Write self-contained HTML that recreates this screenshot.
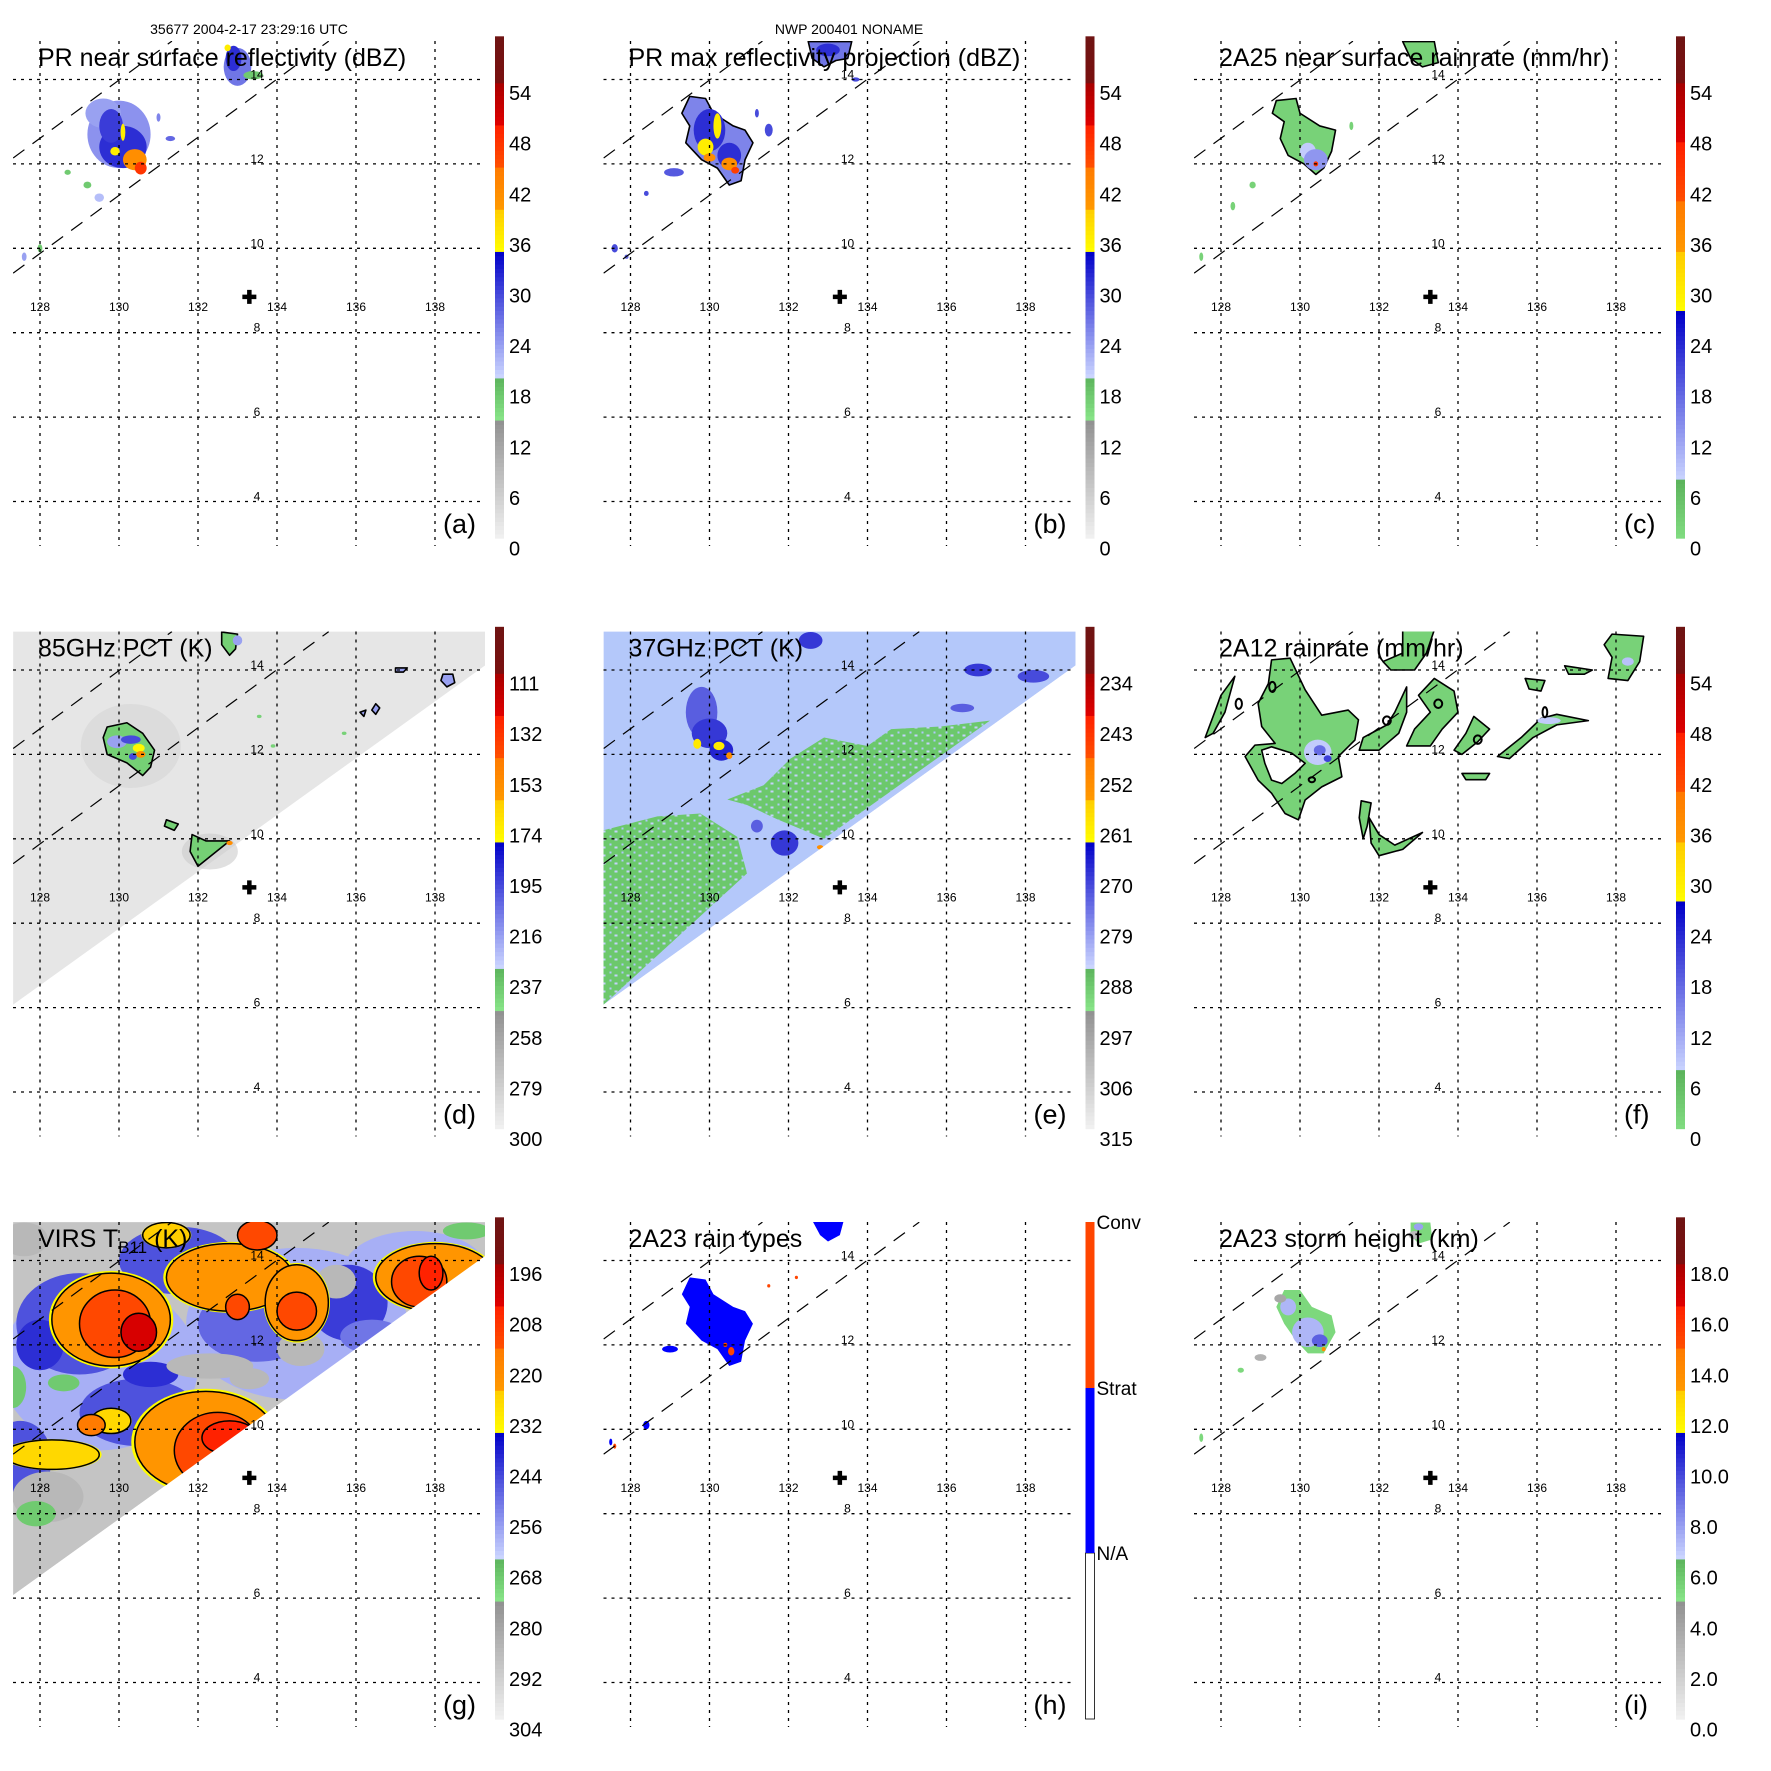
<!DOCTYPE html>
<html><head><meta charset="utf-8"><style>
html,body{margin:0;padding:0;background:#fff}
svg{display:block;font-family:"Liberation Sans",sans-serif}
</style></head><body>
<svg id="fig" xmlns="http://www.w3.org/2000/svg" width="1771" height="1771" viewBox="0 0 1771 1771">
<rect x="0" y="0" width="1771" height="1771" fill="#fff"/>
<defs>
<pattern id="speckE" width="12" height="8" patternUnits="userSpaceOnUse">
<rect width="12" height="8" fill="#6cc86c"/><rect x="0" y="0" width="3" height="2" fill="#c4d2fa"/><rect x="7" y="5" width="2" height="2" fill="#b0c8fa"/>
</pattern>
</defs>
<text x="249" y="34" font-size="14" text-anchor="middle">35677 2004-2-17 23:29:16 UTC</text>
<text x="849" y="34" font-size="14" text-anchor="middle">NWP 200401 NONAME</text>
</svg>
<script>
// ---------- data (lon/lat in degrees, values in panel units) ----------
const lonTicks=[128,130,132,134,136,138];
const latTicks=[14,12,10,8,6,4];
const prSwathUpper=[[127.32,12.14],[131.34,14.91]];
const prSwathLower=[[127.32,9.41],[135.31,14.91]];
const tmiSwath=[[127.32,14.91],[139.27,14.91],[139.27,14.11],[127.32,6.07]];
const stormCenter=[133.3,8.85];
const labelsA=[0,6,12,18,24,30,36,42,48,54];
const labelsD=[300,279,258,237,216,195,174,153,132,111];
const labelsE=[315,306,297,288,279,270,261,252,243,234];
const labelsG=[304,292,280,268,256,244,232,220,208,196];
const labelsI=["0.0","2.0","4.0","6.0","8.0","10.0","12.0","14.0","16.0","18.0"];
// blobs: [lon, lat, rLon, rLat, value]
const blobsA=[[130.0,12.7,0.8,0.8,25],[129.6,13.2,0.45,0.35,24],[130.1,12.4,0.6,0.5,32],[129.8,12.9,0.3,0.4,31],[130.4,12.1,0.3,0.25,42],[130.55,11.9,0.15,0.15,48],[129.9,12.3,0.12,0.1,37],[130.1,12.75,0.06,0.2,37],[133.0,14.3,0.35,0.45,27],[132.9,14.5,0.2,0.3,32],[132.75,14.75,0.08,0.08,37],[133.4,14.1,0.25,0.1,18],[129.2,11.5,0.1,0.08,18],[129.5,11.2,0.12,0.1,22],[128.7,11.8,0.08,0.06,18],[127.6,9.8,0.06,0.1,24],[128.0,10.0,0.06,0.1,18],[131.3,12.6,0.12,0.06,28],[131.0,13.1,0.05,0.1,26]];
const polysB=[[26,[[129.5,13.6],[129.9,13.55],[130.1,13.2],[130.6,12.9],[130.9,12.8],[131.1,12.5],[130.9,12.1],[130.8,11.6],[130.5,11.5],[130.2,11.9],[129.8,12.1],[129.4,12.5],[129.5,12.9],[129.3,13.2]]],[27,[[132.5,14.9],[133.6,14.9],[133.5,14.5],[133.2,14.45],[132.9,14.3],[132.6,14.5]]]];
const blobsB=[[130.0,12.8,0.4,0.5,32],[130.5,12.2,0.3,0.3,32],[129.9,12.4,0.2,0.2,37],[130.2,12.9,0.1,0.3,37],[130.5,12.0,0.2,0.15,42],[130.0,12.15,0.15,0.1,42],[130.65,11.85,0.1,0.08,47],[133.0,14.7,0.3,0.15,32],[129.1,11.8,0.25,0.1,29],[128.4,11.3,0.06,0.06,30],[127.6,10.0,0.08,0.1,30],[127.9,9.8,0.05,0.05,28],[131.5,12.8,0.1,0.15,30],[131.2,13.2,0.05,0.1,30],[133.7,14.0,0.1,0.05,30]];
const polysC=[[3,[[129.4,13.5],[129.9,13.55],[130.0,13.2],[130.5,12.9],[130.9,12.8],[130.8,12.3],[130.6,11.9],[130.4,11.75],[130.1,12.0],[129.7,12.2],[129.5,12.6],[129.6,13.0],[129.3,13.2]]],[3,[[132.6,14.9],[133.4,14.9],[133.5,14.4],[133.1,14.3],[132.8,14.5]]]];
const blobsC=[[130.2,12.3,0.2,0.2,9],[130.4,12.1,0.3,0.25,14],[130.4,12.0,0.06,0.06,45],[128.8,11.5,0.08,0.08,3],[128.3,11.0,0.06,0.1,3],[127.5,9.8,0.05,0.1,3],[131.3,12.9,0.05,0.1,3]];
const polysD=[[239,[[129.7,12.65],[130.2,12.75],[130.6,12.5],[130.9,12.1],[130.8,11.7],[130.6,11.5],[130.2,11.8],[129.7,12.0],[129.6,12.4]]],[239,[[131.85,10.1],[132.2,9.95],[132.8,9.95],[132.0,9.35],[131.8,9.7]]],[239,[[131.2,10.45],[131.5,10.35],[131.4,10.2],[131.15,10.3]]],[239,[[132.6,14.9],[133.0,14.85],[132.95,14.5],[132.8,14.35],[132.6,14.6]]],[216,[[138.2,13.9],[138.45,13.9],[138.5,13.7],[138.3,13.6],[138.15,13.75]]],[216,[[137.0,14.05],[137.3,14.05],[137.2,13.95],[137.0,13.95]]],[216,[[136.5,13.2],[136.6,13.1],[136.5,12.95],[136.4,13.05]]],[216,[[136.1,13.0],[136.25,13.05],[136.2,12.9]]]];
const blobsD2=[[129.95,12.3,0.25,0.15,216],[130.3,12.35,0.25,0.1,195],[130.5,12.15,0.15,0.1,174],[130.55,12.0,0.12,0.08,153],[130.35,11.95,0.1,0.08,195],[132.8,9.9,0.08,0.05,153],[133.0,14.7,0.12,0.12,216],[135.7,12.5,0.06,0.04,240],[133.55,12.9,0.06,0.04,240],[133.9,12.2,0.06,0.04,240]];
const polysE=[[290,[[127.1,10.15],[128.68,10.53],[129.77,10.6],[130.7,10.05],[130.95,9.18],[127.32,6.07]]],[290,[[130.45,10.93],[131.37,11.27],[132.05,11.9],[132.9,12.4],[134.0,12.2],[134.6,12.6],[135.85,12.66],[137.1,12.8],[132.9,10.0],[131.7,10.47],[130.95,10.8]]]];
const blobsE=[[129.8,13.0,0.4,0.6,272],[130.0,12.5,0.45,0.35,268],[130.3,12.1,0.3,0.25,266],[129.69,12.25,0.1,0.12,259],[130.24,12.2,0.14,0.1,259],[130.5,11.97,0.08,0.08,252],[132.56,14.7,0.3,0.2,268],[136.8,14.0,0.35,0.15,268],[138.2,13.85,0.4,0.15,270],[136.4,13.1,0.3,0.1,272],[131.9,9.9,0.35,0.3,268],[131.2,10.3,0.15,0.15,272],[132.8,9.8,0.08,0.05,252]];
const polysF=[[3,[[129.28,14.24],[129.75,14.28],[130.13,13.53],[130.55,12.93],[131.22,13.05],[131.48,12.82],[131.39,12.34],[130.97,11.95],[131.06,11.47],[130.55,11.23],[130.13,10.92],[129.96,10.45],[129.62,10.6],[129.28,11.08],[128.94,11.39],[128.61,11.95],[128.86,12.22],[129.37,12.26],[129.03,12.66],[128.94,13.21],[129.2,13.68]]],[0,[[129.03,12.10],[129.28,12.18],[129.79,12.03],[130.13,11.79],[129.87,11.55],[129.54,11.31],[129.28,11.39],[129.11,11.79]]],[3,[[128.35,13.85],[128.0,13.4],[127.8,12.9],[127.6,12.4],[127.8,12.5],[128.1,13.0]]],[3,[[132.7,13.6],[132.4,13.0],[132.2,12.7],[131.6,12.4],[131.5,12.1],[132.0,12.1],[132.5,12.5],[132.7,13.0]]],[3,[[132.6,14.95],[133.4,14.95],[133.2,14.4],[132.9,14.0],[132.3,14.0],[132.1,14.2],[132.6,14.4]]],[3,[[133.4,13.8],[133.9,13.5],[134.0,13.0],[133.6,12.6],[133.3,12.2],[132.7,12.2],[132.9,12.6],[133.3,13.0],[133.0,13.4]]],[3,[[134.4,12.9],[134.8,12.6],[134.5,12.3],[134.1,12.0],[133.9,12.1],[134.2,12.5]]],[3,[[135.0,11.95],[135.6,12.4],[136.1,12.85],[136.5,12.95],[137.3,12.8],[136.5,12.7],[135.9,12.4],[135.3,11.9]]],[3,[[135.7,13.8],[136.2,13.75],[136.1,13.5],[135.8,13.55]]],[3,[[136.7,14.1],[137.4,14.0],[137.2,13.9],[136.8,13.9]]],[3,[[137.9,14.85],[138.7,14.8],[138.6,14.2],[138.3,13.75],[137.8,13.8],[137.9,14.3],[137.7,14.6]]],[3,[[134.1,11.55],[134.8,11.55],[134.7,11.4],[134.2,11.4]]],[3,[[131.55,10.9],[131.8,10.85],[131.7,10.3],[131.6,10.0],[131.5,10.5]]],[3,[[131.75,10.5],[132.0,10.1],[132.4,9.85],[133.1,10.15],[132.6,9.75],[132.0,9.6],[131.8,9.9]]]];
const blobsF=[[130.45,12.05,0.35,0.3,9],[130.5,12.1,0.15,0.12,18],[130.7,11.9,0.1,0.08,22],[138.3,14.2,0.15,0.1,10],[136.3,12.8,0.3,0.08,9]];
const ringsF=[[129.3,13.6,0.08,0.12],[128.45,13.2,0.08,0.12],[132.2,12.8,0.1,0.1],[133.5,13.2,0.1,0.1],[134.5,12.35,0.1,0.1],[136.2,13.0,0.06,0.12],[130.3,11.4,0.08,0.06]];
const blobsG=[[129.5,11.5,2.5,2.0,258],[134.5,12.5,2.8,1.8,258],[137.5,13.8,1.8,0.9,258],[129.0,12.5,1.6,1.2,245],[130.5,10.4,1.5,0.8,245],[133.5,12.5,1.5,0.9,248],[135.8,13.0,1.0,0.9,242],[131.5,14.0,1.5,0.8,245],[127.5,9.3,0.8,0.9,245],[138.6,13.7,0.8,0.5,245],[128.0,12.0,0.6,0.6,240],[130.8,11.3,0.7,0.3,240],[136.4,12.2,0.8,0.4,250],[132.3,11.5,1.1,0.3,285],[135.5,13.5,0.5,0.4,285],[134.6,11.9,0.6,0.4,285],[127.6,14.5,0.6,0.4,285],[128.2,8.4,0.9,0.6,285],[133.3,11.2,0.5,0.25,285],[127.3,11.0,0.35,0.5,268],[128.6,11.1,0.4,0.2,268],[127.9,8.0,0.5,0.3,268],[138.8,14.7,0.6,0.2,268]];
const warmG=[[129.8,12.6,1.5,1.1,222],[132.2,9.7,1.8,1.2,222],[128.3,9.4,1.2,0.35,226],[132.8,13.6,1.6,0.8,222],[134.5,13.0,0.8,0.9,222],[138.0,13.6,1.5,0.8,222],[131.2,14.6,0.6,0.3,224],[129.8,10.2,0.5,0.3,226]];
const coldG=[[129.9,12.5,0.9,0.8,212],[132.5,9.5,1.1,0.9,212],[133.5,14.6,0.5,0.35,212],[134.5,12.8,0.5,0.45,212],[133.0,12.9,0.3,0.3,212],[137.6,13.5,0.7,0.6,212],[129.3,10.1,0.35,0.25,214],[130.5,12.3,0.45,0.45,202],[132.8,9.8,0.7,0.4,204],[137.9,13.7,0.3,0.4,204]];
const polysH=[[1,[[129.5,13.6],[129.9,13.55],[130.1,13.2],[130.6,12.9],[130.9,12.8],[131.1,12.5],[130.9,12.1],[130.8,11.6],[130.5,11.5],[130.2,11.9],[129.8,12.1],[129.4,12.5],[129.5,12.9],[129.3,13.2]]],[1,[[132.6,14.95],[133.4,14.95],[133.3,14.6],[133.0,14.45],[132.8,14.6]]]];
const blobsH=[[130.55,11.85,0.08,0.1,2],[130.4,12.0,0.05,0.05,2],[131.5,13.4,0.04,0.04,2],[132.2,13.6,0.04,0.04,2],[127.6,9.6,0.04,0.06,2],[128.4,10.1,0.08,0.1,1],[129.0,11.9,0.2,0.08,1],[127.5,9.7,0.04,0.08,1]];
const polysI=[[5.5,[[129.6,13.3],[130.0,13.3],[130.3,12.9],[130.8,12.7],[130.9,12.3],[130.6,11.8],[130.2,11.8],[129.9,12.1],[129.6,12.5],[129.4,12.9]]],[5.5,[[132.8,14.9],[133.3,14.9],[133.35,14.5],[133.0,14.4],[132.8,14.6]]]];
const blobsI=[[130.2,12.3,0.4,0.35,7.5],[129.7,12.9,0.2,0.2,7.5],[130.5,12.1,0.2,0.15,9.5],[129.5,13.1,0.15,0.1,4],[130.6,11.9,0.05,0.05,14],[132.9,14.6,0.15,0.1,3],[133.0,14.8,0.12,0.08,8],[129.0,11.7,0.15,0.08,3.5],[128.5,11.4,0.08,0.06,5.5],[127.5,9.8,0.05,0.1,5.5]];

// ---------- helpers ----------
const NS="http://www.w3.org/2000/svg";
const svg=document.getElementById('fig');
function X(lon){return 40+(lon-128)*39.5;}
function Y(lat){return 79.5+(14-lat)*42.2;}
function el(tag,attrs,parent){const e=document.createElementNS(NS,tag);for(const k in attrs)e.setAttribute(k,attrs[k]);parent.appendChild(e);return e;}
function mix(a,b,t){const pa=[parseInt(a.slice(1,3),16),parseInt(a.slice(3,5),16),parseInt(a.slice(5,7),16)];const pb=[parseInt(b.slice(1,3),16),parseInt(b.slice(3,5),16),parseInt(b.slice(5,7),16)];return 'rgb('+pa.map((v,i)=>Math.round(v+(pb[i]-v)*t)).join(',')+')';}
function bands(v,stops){for(const s of stops){if(v<=s[1])return mix(s[2],s[3],Math.max(0,Math.min(1,(v-s[0])/(s[1]-s[0]))));}const l=stops[stops.length-1];return l[3];}
const stopsA=[[0,15.3,'#fafafa','#909090'],[15.3,20.3,'#88e488','#5cb45c'],[20.3,35.2,'#ccd6ff','#0000c8'],[35.2,40.2,'#ffff00','#ffcc00'],[40.2,45.2,'#ff9a00','#ff7a00'],[45.2,50.2,'#ff5000','#ff2000'],[50.2,55.2,'#e00000','#a80000'],[55.2,70,'#7a1010','#5a1a18']];
const stopsC=[[0,8,'#88e488','#5cb45c'],[8,28,'#ccd6ff','#0000c8'],[28,35,'#ffff00','#ffcc00'],[35,41,'#ff9a00','#ff7a00'],[41,48,'#ff5000','#ff2000'],[48,55,'#e00000','#a80000'],[55,70,'#7a1010','#5a1a18']];
function colA(v){return bands(v,stopsA);}
function colC(v){return v<=0?'#ffffff':bands(v,stopsC);}
const fD=T=>colA((300-T)/3.5);
const fE=T=>colA((315-T)/1.5);
const fG=T=>colA((304-T)/2);
const fI=h=>colA(h*3);
const fH=c=>c===2?'#ff4500':(c===1?'#0000ff':'#ffffff');
function cbY(v){return 548.5-v*8.433;}

function ellipses(g,list,fn,stroke){for(const b of list){const e=el('ellipse',{cx:X(b[0]),cy:Y(b[1]),rx:b[2]*39.5,ry:b[3]*42.2,fill:fn(b[4])},g);if(stroke){e.setAttribute('stroke','#000');e.setAttribute('stroke-width','1.5');}

}}
function polys(g,list,fn,stroke){for(const p of list){const e=el('polygon',{points:p[1].map(q=>X(q[0])+','+Y(q[1])).join(' '),fill:fn(p[0])},g);if(stroke){e.setAttribute('stroke','#000');e.setAttribute('stroke-width','1.6');e.setAttribute('stroke-linejoin','round');}

}}
function swathFill(g,fill){const e=el('polygon',{points:tmiSwath.map(q=>X(q[0])+','+Y(q[1])).join(' '),fill:fill},g);

return e;}

const panels=[
 {key:'a',title:'PR near surface reflectivity (dBZ)',labels:labelsA,cb:v=>colA(v)},
 {key:'b',title:'PR max reflectivity projection (dBZ)',labels:labelsA,cb:v=>colA(v)},
 {key:'c',title:'2A25 near surface rainrate (mm/hr)',labels:labelsA,cb:v=>colC(v)},
 {key:'d',title:'85GHz PCT (K)',labels:labelsD,cb:v=>colA(v)},
 {key:'e',title:'37GHz PCT (K)',labels:labelsE,cb:v=>colA(v)},
 {key:'f',title:'2A12 rainrate (mm/hr)',labels:labelsA,cb:v=>colC(v)},
 {key:'g',title:'VIRS',labels:labelsG,cb:v=>colA(v)},
 {key:'h',title:'2A23 rain types',labels:null,cb:null},
 {key:'i',title:'2A23 storm height (km)',labels:labelsI,cb:v=>colA(v)}
];

panels.forEach((p,i)=>{
 const col=i%3,row=Math.floor(i/3);
 const g=el('g',{transform:'translate('+(col*590.5)+','+(row*590.5)+')'},svg);
 
 
 const cp=el('clipPath',{id:'clip'+p.key},g);
 el('rect',{x:13,y:41,width:472,height:505},cp);
 const m=el('g',{'clip-path':'url(#clip'+p.key+')'},g);
 
 
 if(p.key==='a'){ellipses(m,blobsA,colA,false);}
 if(p.key==='b'){polys(m,polysB,colA,true);ellipses(m,blobsB,colA,false);}
 if(p.key==='c'){polys(m,polysC,colC,true);ellipses(m,blobsC,colC,false);}
 if(p.key==='d'){swathFill(m,'#e6e6e6');el('ellipse',{cx:X(130.3),cy:Y(12.2),rx:50,ry:42,fill:'#d6d6d6',opacity:0.6},m);el('ellipse',{cx:X(132.3),cy:Y(9.7),rx:28,ry:18,fill:'#cccccc',opacity:0.6},m);
  polys(m,polysD,fD,true);ellipses(m,blobsD2,fD,false);}
 if(p.key==='e'){swathFill(m,'#b4c8fa');polys(m,polysE,()=> 'url(#speckE)',false);ellipses(m,blobsE,fE,false);
  el('polygon',{points:[[139.27,14.11],[139.27,4],[127.32,4],[127.32,6.07]].map(q=>X(q[0])+','+Y(q[1])).join(' '),fill:'#fff'},m);}
 if(p.key==='f'){polys(m,polysF,colC,true);ellipses(m,blobsF,colC,false);
  for(const r of ringsF){const e=el('ellipse',{cx:X(r[0]),cy:Y(r[1]),rx:r[2]*39.5,ry:r[3]*42.2,fill:'none',stroke:'#000','stroke-width':2},m);
  
  }}
 if(p.key==='g'){swathFill(m,'#c4c4c4');ellipses(m,blobsG,fG,false);
  ellipses(m,warmG.map(b=>[b[0],b[1],b[2]*1.05,b[3]*1.05,233]),fG,false);
  ellipses(m,warmG,fG,true);ellipses(m,coldG,fG,true);
  el('polygon',{points:[[139.27,14.11],[139.27,4],[127.32,4],[127.32,6.07]].map(q=>X(q[0])+','+Y(q[1])).join(' '),fill:'#fff'},m);}
 if(p.key==='h'){polys(m,polysH,fH,false);ellipses(m,blobsH,fH,false);}
 if(p.key==='i'){polys(m,polysI,fI,false);ellipses(m,blobsI,fI,false);}
 // grid
 for(const lat of latTicks){const l=el('line',{x1:13,x2:485,y1:Y(lat),y2:Y(lat),stroke:'#000','stroke-width':1.3,'stroke-dasharray':'3,5'},g);
  
  
  const t=el('text',{x:257,y:Y(lat)-1,'font-size':12,'text-anchor':'middle'},g);t.textContent=lat;
  
  }
 for(const lon of lonTicks){const l=el('line',{x1:X(lon),x2:X(lon),y1:41,y2:546,stroke:'#000','stroke-width':1.3,'stroke-dasharray':'3,5'},g);
  
  
  const t=el('text',{x:X(lon),y:311,'font-size':12,'text-anchor':'middle'},g);t.textContent=lon;
  
  }
 // PR swath edges
 const sw=el('g',{'clip-path':'url(#clip'+p.key+')'},g);
 for(const s of [prSwathUpper,prSwathLower]){const l=el('line',{x1:X(s[0][0]),y1:Y(s[0][1]),x2:X(s[1][0]),y2:Y(s[1][1]),stroke:'#000','stroke-width':1.2,'stroke-dasharray':'14,10'},sw);
  
  }
 // storm center cross
 const cx=X(stormCenter[0]),cy=Y(stormCenter[1]);
 const cr=el('path',{d:'M'+(cx-7)+' '+cy+'H'+(cx+7)+'M'+cx+' '+(cy-7)+'V'+(cy+7),stroke:'#000','stroke-width':4.5},g);
 
 
 // title
 const tt=el('text',{x:38,y:66,'font-size':25},g);
 if(p.key==='g'){tt.innerHTML='VIRS T<tspan font-size="17" dy="6">B11</tspan><tspan dy="-6"> (K)</tspan>';}else tt.textContent=p.title;
 
 
 const lt=el('text',{x:443,y:533,'font-size':27},g);lt.textContent='('+p.key+')';
 
 
 // colorbar
 const cb=el('g',{},g);
 
 
 if(p.cb){for(let v=1.2;v<60.4;v+=0.5){el('rect',{x:495,y:cbY(v+0.5)-0.3,width:9,height:4.8,fill:p.cb(v+0.25)},cb);}
  p.labels.forEach((lab,k)=>{const t=el('text',{x:509,y:cbY(k*6)+7,'font-size':20},cb);t.textContent=lab;
   
   });}
 else{el('rect',{x:495,y:372,width:9,height:166,fill:'#fff',stroke:'#000','stroke-width':0.8},cb);
  el('rect',{x:495,y:207,width:9,height:165,fill:'#0000ff'},cb);
  el('rect',{x:495,y:41,width:9,height:166,fill:'#ff4500'},cb);
  [['Conv',48],['Strat',214],['N/A',379]].forEach(a=>{const t=el('text',{x:506,y:a[1],'font-size':19},cb);t.textContent=a[0];
   
   });}
});
</script>
</body></html>
